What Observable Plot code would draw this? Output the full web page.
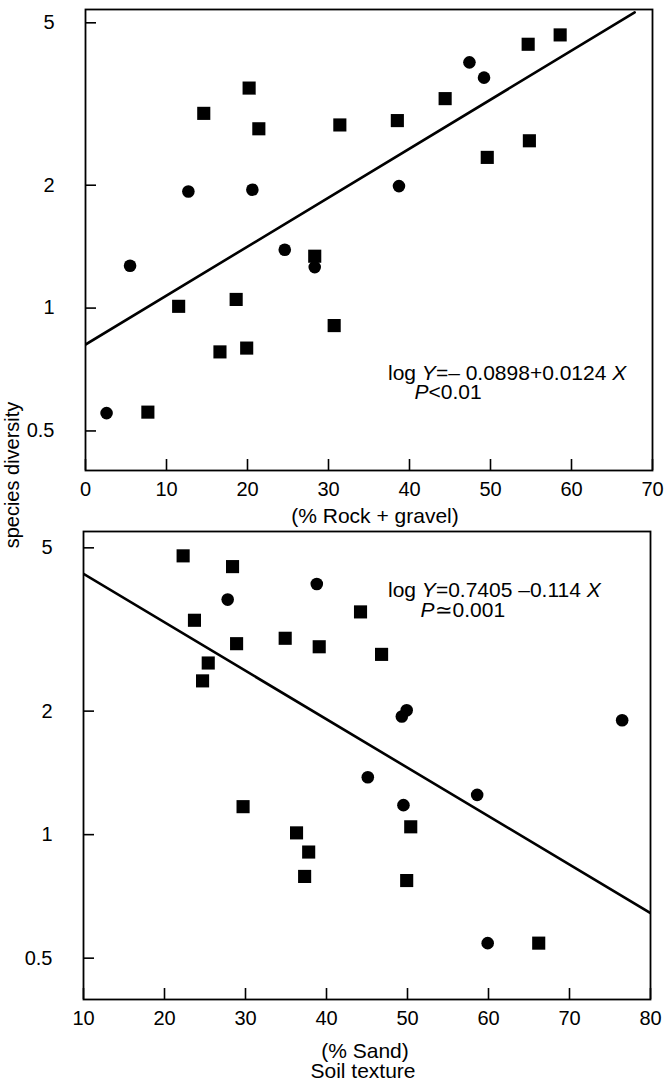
<!DOCTYPE html>
<html><head><meta charset="utf-8">
<script src="https://cdn.jsdelivr.net/npm/d3@7"></script>
<script src="https://cdn.jsdelivr.net/npm/@observablehq/plot@0.6"></script>
<style>
body{margin:0;background:#fff;}
#wrap{position:relative;width:665px;height:1084px;font-family:"Liberation Sans",Arial,sans-serif;}
#wrap svg{display:block;}
#ylab{position:absolute;left:12px;top:475px;transform:translate(-50%,-50%) rotate(-90deg);font-size:20px;white-space:nowrap;line-height:1;color:#000;}
</style></head><body>
<div id="wrap"><div id="top"></div><div id="bot"></div><div id="ylab">species diversity</div></div>
<script>
// ---- data ----
const yTicks = [0.5, 1, 2, 5];
const topXTicks = [0, 10, 20, 30, 40, 50, 60, 70];
const botXTicks = [10, 20, 30, 40, 50, 60, 70, 80];

const topSquaresX = [58.6, 54.65, 44.4, 20.2, 14.6, 21.4, 31.4, 38.5, 54.8, 49.6, 28.3, 11.5, 18.6, 30.7, 16.6, 19.9, 7.7];
const topSquaresY = [4.67, 4.43, 3.26, 3.46, 3.0, 2.75, 2.81, 2.88, 2.57, 2.34, 1.34, 1.01, 1.05, 0.906, 0.781, 0.798, 0.556];
const topCirclesX = [47.4, 49.2, 12.7, 20.6, 38.7, 24.6, 28.3, 5.5, 2.6];
const topCirclesY = [4.0, 3.67, 1.93, 1.95, 1.99, 1.39, 1.26, 1.27, 0.553];
const topLineX = [0, 67.8];
const topLineY = [0.814, 5.3];

const botSquaresX = [22.3, 28.4, 44.2, 23.7, 34.9, 28.9, 39.1, 46.8, 25.4, 24.7, 29.7, 36.3, 50.4, 37.8, 37.3, 49.9, 66.2];
const botSquaresY = [4.78, 4.50, 3.49, 3.33, 3.01, 2.92, 2.87, 2.75, 2.62, 2.37, 1.17, 1.01, 1.045, 0.907, 0.791, 0.773, 0.544];
const botCirclesX = [38.8, 27.8, 49.9, 49.3, 76.5, 45.1, 58.6, 49.5, 59.9];
const botCirclesY = [4.08, 3.74, 2.01, 1.94, 1.90, 1.38, 1.25, 1.18, 0.544];
const botLineX = [10, 80];
const botLineY = [4.32, 0.644];

const topEq1 = [["log ", false], ["Y", true], ["=\u2013 0.0898+0.0124 ", false], ["X", true]];
const topEq2 = [["P", true], ["<0.01", false]];
const botEq1 = [["log ", false], ["Y", true], ["=0.7405 \u20130.114 ", false], ["X", true]];
const botEq2 = [["P", true], ["\u22430.001", false]];

const topXLabel = "(% Rock + gravel)";
const botXLabel1 = "(% Sand)";
const botXLabel2 = "Soil texture";

// ---- helpers ----
const font = "'Liberation Sans', Arial, sans-serif";
const pts = (xs, ys) => xs.map((x, i) => ({x, y: ys[i]}));
const plain = parts => parts.map(p => p[0]).join("");

function richify(svg, parts) {
  const s = plain(parts);
  d3.select(svg).selectAll("text").each(function () {
    if (this.textContent === s) {
      this.textContent = "";
      for (const [t, it] of parts) {
        const ts = d3.select(this).append("tspan").text(t);
        if (it) ts.attr("font-style", "italic");
      }
    }
  });
}

function panel({height, marginLeft, marginRight, marginTop, marginBottom, xDomain, yDomain, xTicks,
                squares, circles, line, eqs, labels}) {
  return Plot.plot({
    width: 665, height, marginLeft, marginRight, marginTop, marginBottom,
    style: {fontFamily: font, fontSize: "20px", color: "black", background: "white", overflow: "visible"},
    x: {domain: xDomain},
    y: {type: "log", domain: yDomain},
    marks: [
      Plot.axisX(xTicks, {tickSize: -11, strokeWidth: 1.6, tickFormat: () => "", label: null}),
      Plot.axisX(xTicks, {tickSize: 0, tickPadding: 11, tickFormat: d => String(d), label: null}),
      Plot.axisY(yTicks, {tickSize: -11, strokeWidth: 1.6, tickFormat: () => "", label: null}),
      Plot.axisY(yTicks, {tickSize: 0, tickPadding: 31, tickFormat: d => String(d), label: null}),
      Plot.frame({stroke: "black", strokeWidth: 1.8}),
      Plot.line(pts(line[0], line[1]), {x: "x", y: "y", stroke: "black", strokeWidth: 2.6, clip: true}),
      Plot.dot(squares, {x: "x", y: "y", symbol: "square", r: 7.4, fill: "black", stroke: "none"}),
      Plot.dot(circles, {x: "x", y: "y", symbol: "circle", r: 6.3, fill: "black", stroke: "none"}),
      ...eqs.map(e => Plot.text([plain(e.parts)], {frameAnchor: "top-left", textAnchor: "start", lineAnchor: "bottom",
        dx: e.dx, dy: e.dy, fontSize: 21, fill: "black"})),
      ...labels.map(l => Plot.text([l.text], {frameAnchor: "bottom", textAnchor: "middle", lineAnchor: "bottom",
        dx: l.dx, dy: l.dy, fontSize: 21, fill: "black"}))
    ]
  });
}

const topEqs = [{parts: topEq1, dx: 302.5, dy: 370.5}, {parts: topEq2, dx: 329, dy: 389}];
const botEqs = [{parts: botEq1, dx: 304.5, dy: 65.5}, {parts: botEq2, dx: 337, dy: 85}];

const topSvg = panel({
  height: 530, marginLeft: 85, marginRight: 13, marginTop: 9, marginBottom: 60,
  xDomain: [0, 70], yDomain: [0.4, 5.39], xTicks: topXTicks,
  squares: pts(topSquaresX, topSquaresY), circles: pts(topCirclesX, topCirclesY),
  line: [topLineX, topLineY], eqs: topEqs,
  labels: [{text: topXLabel, dx: 6, dy: 52}]
});
topEqs.forEach(e => richify(topSvg, e.parts));
document.getElementById("top").appendChild(topSvg);

const botSvg = panel({
  height: 554, marginLeft: 83, marginRight: 15, marginTop: 1, marginBottom: 85,
  xDomain: [10, 80], yDomain: [0.3965, 5.48], xTicks: botXTicks,
  squares: pts(botSquaresX, botSquaresY), circles: pts(botCirclesX, botCirclesY),
  line: [botLineX, botLineY], eqs: botEqs,
  labels: [{text: botXLabel1, dx: -2, dy: 58.5}, {text: botXLabel2, dx: -4, dy: 78.5}]
});
botEqs.forEach(e => richify(botSvg, e.parts));
document.getElementById("bot").appendChild(botSvg);
</script>
</body></html>
